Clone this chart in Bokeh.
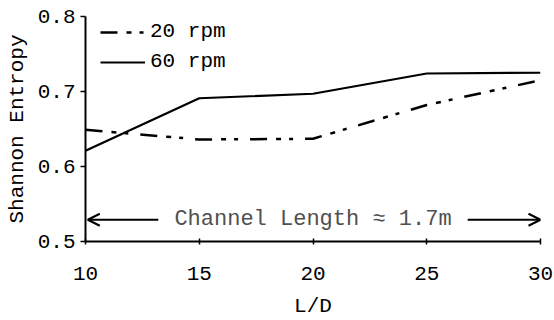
from bokeh.plotting import figure
from bokeh.models import Range1d, Legend, LegendItem, Arrow, OpenHead, FixedTicker, Label
from bokeh.embed import file_html
from bokeh.resources import INLINE

ld = [10, 15, 20, 25, 30]
rpm20 = [0.649, 0.636, 0.637, 0.682, 0.715]
rpm60 = [0.621, 0.691, 0.697, 0.724, 0.725]
x_ticks = [10, 15, 20, 25, 30]
y_ticks = [0.5, 0.6, 0.7, 0.8]
annot_text = "Channel Length \u2248 1.7m"
annot_y = 0.529
arrow_left = (13.2, 10.1)
arrow_right = (26.8, 30.0)

FONT = "Liberation Mono"

p = figure(width=554, height=320, output_backend="svg", toolbar_location=None,
           x_range=Range1d(10, 30), y_range=Range1d(0.5, 0.8),
           min_border_left=85, min_border_right=14, min_border_top=16, min_border_bottom=79)
p.outline_line_color = None
p.xgrid.visible = False
p.ygrid.visible = False

r20 = p.line(ld, rpm20, line_color="black", line_width=2.5, line_dash="17 9 5 8 4 12")
r60 = p.line(ld, rpm60, line_color="black", line_width=2.2)

legend = Legend(items=[LegendItem(label="20 rpm", renderers=[r20]),
                       LegendItem(label="60 rpm", renderers=[r60])],
                location=(15, 168), margin=0, padding=0, spacing=7,
                glyph_width=45, glyph_height=20, label_height=20,
                label_standoff=5, border_line_color=None, background_fill_alpha=0,
                label_text_font=FONT, label_text_font_size="21px", label_text_color="black")
p.add_layout(legend)

p.add_layout(Arrow(end=OpenHead(size=12, line_width=2, line_color="black"),
                   x_start=arrow_left[0], y_start=annot_y, x_end=arrow_left[1], y_end=annot_y,
                   line_width=2, line_color="black"))
p.add_layout(Arrow(end=OpenHead(size=12, line_width=2, line_color="black"),
                   x_start=arrow_right[0], y_start=annot_y, x_end=arrow_right[1], y_end=annot_y,
                   line_width=2, line_color="black"))
p.add_layout(Label(x=20, y=annot_y, text=annot_text, text_align="center", text_baseline="middle",
                   text_font=FONT, text_font_size="22px", text_color="#505050"))

for ax in (p.xaxis[0], p.yaxis[0]):
    ax.axis_line_color = "black"
    ax.axis_line_width = 2
    ax.major_tick_line_color = "black"
    ax.major_tick_line_width = 1.5
    ax.minor_tick_line_color = None
    ax.major_label_text_font = FONT
    ax.major_label_text_font_size = "21px"
    ax.major_label_text_color = "black"
    ax.axis_label_text_font = FONT
    ax.axis_label_text_font_style = "normal"
    ax.axis_label_text_color = "black"

p.xaxis.ticker = FixedTicker(ticks=x_ticks)
p.yaxis.ticker = FixedTicker(ticks=y_ticks)
p.xaxis.major_tick_in = 3
p.xaxis.major_tick_out = 3
p.yaxis.major_tick_in = 0
p.yaxis.major_tick_out = 5
p.xaxis.major_label_standoff = 22
p.yaxis.major_label_standoff = 5
p.xaxis.axis_label = "L/D"
p.yaxis.axis_label = "Shannon Entropy"
p.xaxis.axis_label_text_font_size = "21px"
p.yaxis.axis_label_text_font_size = "21px"
p.xaxis.axis_label_standoff = 12
p.yaxis.axis_label_standoff = 6

open("out.html", "w").write(file_html(p, INLINE))
